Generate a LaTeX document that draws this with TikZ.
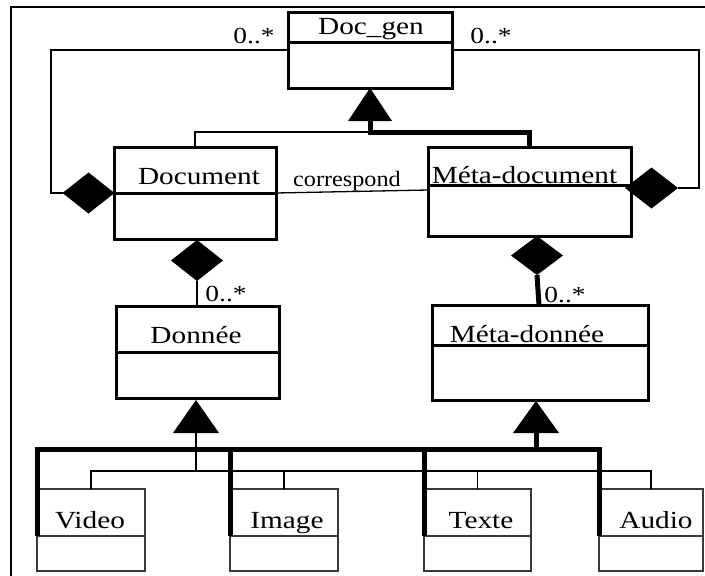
\documentclass[tikz,border=0pt]{standalone}
\usepackage{fontspec}
\setmainfont{Liberation Serif}
\usetikzlibrary{shapes.geometric}
\newcommand{\hst}[1]{\scalebox{1.19}[1]{#1}}
\tikzset{
  umlbox/.style={draw=black, line width=3pt, inner sep=0pt, outer sep=0pt, anchor=north west},
  subbox/.style={draw=black!78, line width=2.6pt, inner sep=0pt, outer sep=0pt, anchor=north west},
  divline/.style={line width=3pt},
  subdiv/.style={draw=black!78, line width=2.6pt},
  lbl/.style={inner sep=0pt, anchor=base, font=\fontsize{24.6}{28}\selectfont},
  mult/.style={inner sep=0pt, anchor=base, font=\fontsize{23}{26}\selectfont},
  assoc/.style={inner sep=0pt, anchor=base, font=\fontsize{22}{26}\selectfont},
  thinline/.style={line width=1.3pt},
  heavyline/.style={line width=5pt},
  agg/.style={diamond, fill=black, draw=none, inner sep=0pt, outer sep=0pt, minimum width=52pt, minimum height=41pt},
}
\begin{document}
\begin{tikzpicture}[x=1pt, y=-1pt]
\useasboundingbox (0,0) rectangle (705,576);
\clip (0,0) rectangle (705,576);
\fill[white] (0,0) rectangle (705,576);
% outer frame
\draw[line width=2pt] (11,6.5) rectangle (760,640);

% class boxes
\node[umlbox, minimum width=164pt, minimum height=76pt] (docgen) at (288,12) {};
\node[umlbox, minimum width=162pt, minimum height=92pt] (doc) at (114,147) {};
\node[umlbox, minimum width=203pt, minimum height=89pt] (metadoc) at (428,147) {};
\node[umlbox, minimum width=163pt, minimum height=92pt] (donnee) at (116,306) {};
\node[umlbox, minimum width=216pt, minimum height=95pt] (metadonnee) at (432,305) {};
\node[subbox, minimum width=108pt, minimum height=82pt] (video) at (37,489) {};
\node[subbox, minimum width=108pt, minimum height=82pt] (image) at (230,489) {};
\node[subbox, minimum width=107pt, minimum height=82pt] (texte) at (424,489) {};
\node[subbox, minimum width=104pt, minimum height=82pt] (audio) at (599,489) {};

% dividers
\draw[divline] ([yshift=-30pt]docgen.north west) -- ([yshift=-30pt]docgen.north east);
\draw[divline] ([yshift=-46pt]doc.north west) -- ([yshift=-46pt]doc.north east);
\draw[divline] ([yshift=-38pt]metadoc.north west) -- ([yshift=-38pt]metadoc.north east);
\draw[divline] ([yshift=-46pt]donnee.north west) -- ([yshift=-46pt]donnee.north east);
\draw[divline] ([yshift=-40pt]metadonnee.north west) -- ([yshift=-40pt]metadonnee.north east);
\foreach \b in {video,image,texte,audio}
  \draw[subdiv] ([yshift=-47pt]\b.north west) -- ([yshift=-47pt]\b.north east);

% class names
\node[lbl] (t-docgen) at (371,34) {\hst{Doc\_gen}};
\node[lbl] (t-doc) at (199,184) {\hst{Document}};
\node[lbl] (t-metadoc) at (524.5,183) {\hst{Méta-document}};
\node[lbl] (t-donnee) at (196,343) {\hst{Donnée}};
\node[lbl] (t-metadonnee) at (527,342) {\hst{Méta-donnée}};
\node[lbl] (t-video) at (90,528) {\hst{Video}};
\node[lbl] (t-image) at (287,528) {\hst{Image}};
\node[lbl] (t-texte) at (481,528) {\hst{Texte}};
\node[lbl] (t-audio) at (656,528) {\hst{Audio}};

% multiplicities
\node[mult] (m1) at (254,43) {\hst{0..*}};
\node[mult] (m2) at (491,43) {\hst{0..*}};
\node[mult] (m3) at (226,301) {\hst{0..*}};
\node[mult] (m4) at (565,302) {\hst{0..*}};

% generalization Doc_gen
\coordinate (g1) at ([yshift=-33pt]docgen.south);
\fill (docgen.south) -- ([xshift=22pt]g1) -- ([xshift=-22pt]g1) -- cycle;
\coordinate (h1) at ([yshift=-11pt]g1);
\draw[thinline] (doc.north) |- (h1);
\draw[heavyline] (g1) -- (h1) -| (metadoc.north);

% aggregations to Doc_gen
\node[agg] (dL) at (88.5,193) {};
\draw[thinline] (dL.west) -- ++(-11.5,0) |- (docgen.west);
\node[agg, minimum width=53pt] (dR) at (651.5,188) {};
\draw[thinline] (dR.east) -- ++(21,0) |- (docgen.east);

% correspond
\draw[thinline] ([yshift=-46pt]doc.north east) -- (metadoc.west |- 0,190);
\node[assoc] (t-corr) at (347,186) {\scalebox{1.1}[1]{correspond}};

% composition Document - Donnee
\node[agg, anchor=north] (dD) at (197,240) {};
\draw[thinline] (dD.south) -- (donnee.north -| dD.south);
\node[agg, minimum height=39pt, anchor=north] (dM) at (537,236) {};
\draw[heavyline] (dM.south) -- ([xshift=-1pt]metadonnee.north);

% generalization Donnee (thin)
\coordinate (a2) at (196,400);
\coordinate (g2) at (196,433);
\fill (a2) -- ([xshift=23pt]g2) -- ([xshift=-23pt]g2) -- cycle;
\coordinate (h2) at (196,471);
\draw[thinline] (g2) -- (h2);
\draw[thinline] (video.north) |- (audio.north |- h2) -- (audio.north);
\draw[thinline] (image.north) -- (image.north |- h2);
\draw[thinline] (texte.north) -- (texte.north |- h2);

% generalization Meta-donnee (heavy)
\coordinate (a3) at (536,401);
\coordinate (g3) at (536,433);
\fill (a3) -- ([xshift=23pt]g3) -- ([xshift=-23pt]g3) -- cycle;
\coordinate (h3) at (536,449);
\draw[heavyline] (g3) -- (h3);
\draw[heavyline] ([yshift=-47pt]video.north west) -- (video.north west |- h3) -- (audio.north west |- h3) -- ([yshift=-47pt]audio.north west);
\draw[heavyline] (image.north west |- h3) -- ([yshift=-47pt]image.north west);
\draw[heavyline] (texte.north west |- h3) -- ([yshift=-47pt]texte.north west);
\end{tikzpicture}
\end{document}
